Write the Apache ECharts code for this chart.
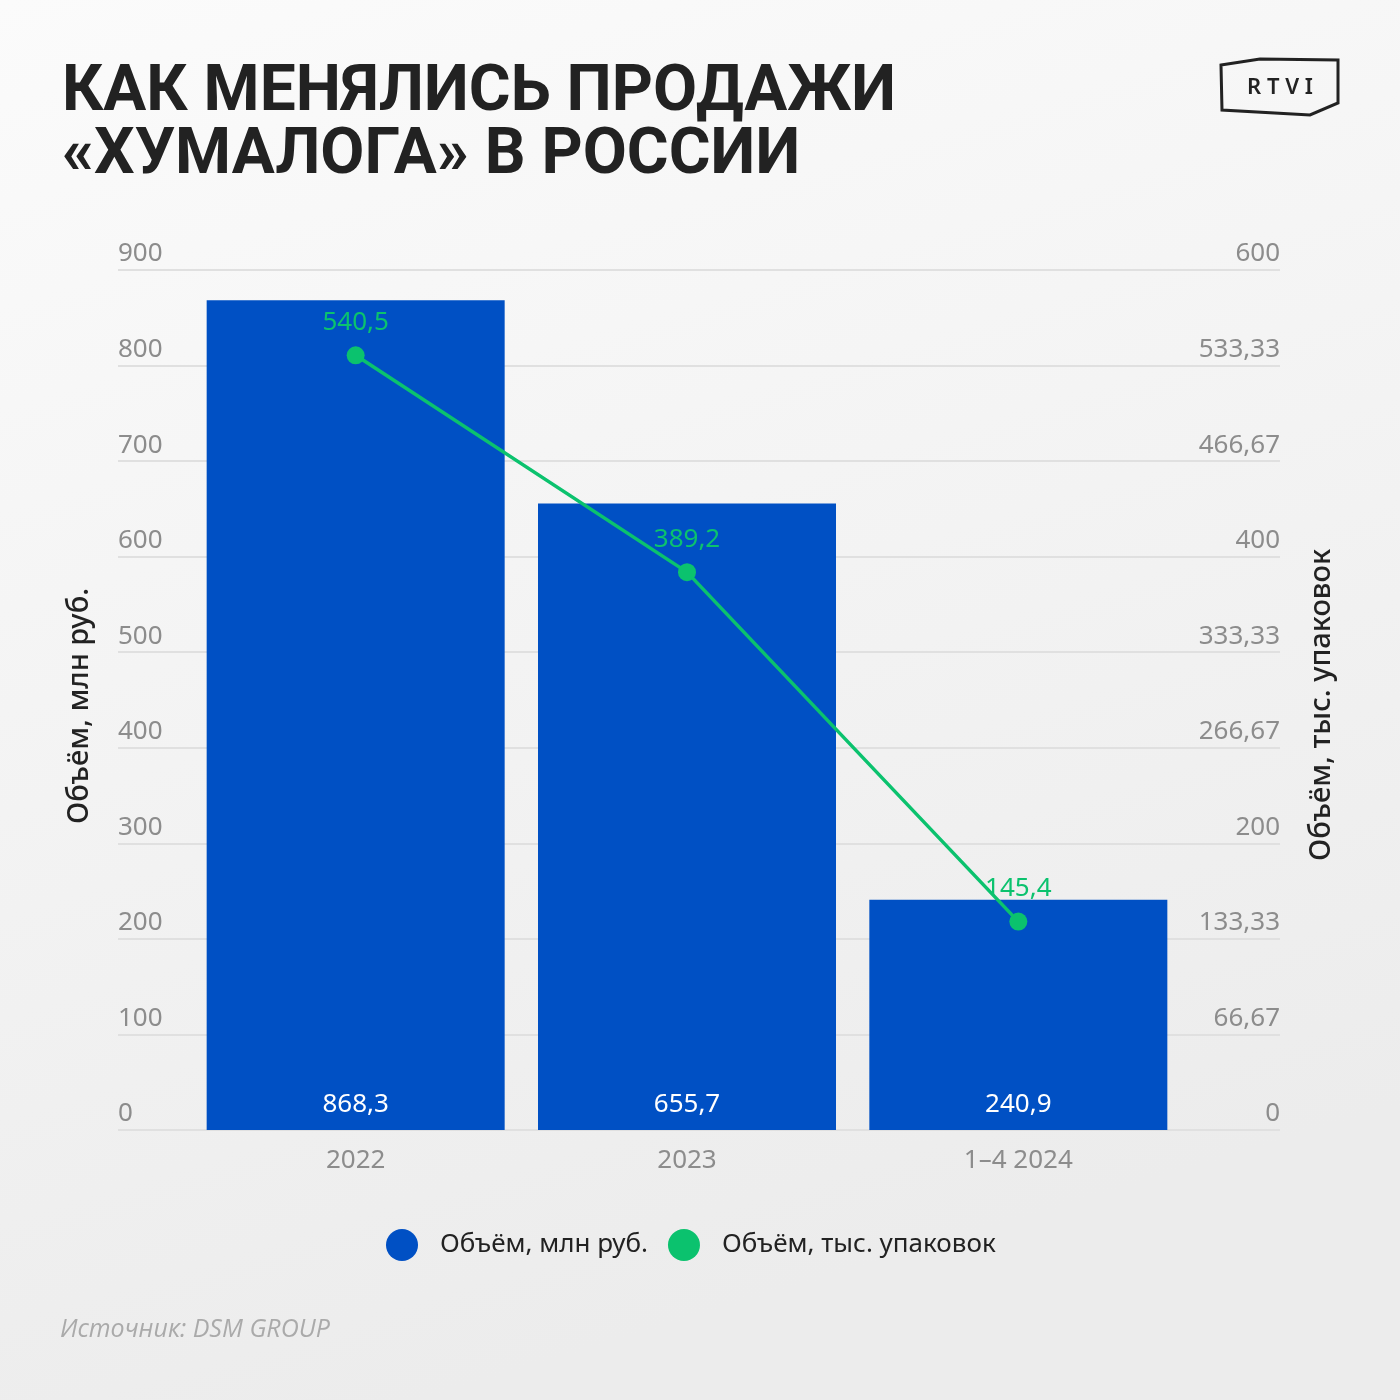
<!DOCTYPE html>
<html><head><meta charset="utf-8">
<script src="https://cdn.jsdelivr.net/npm/echarts@6/dist/echarts.min.js"></script>
<style>html,body{margin:0;padding:0;}#c{width:1400px;height:1400px;}</style>
</head><body><div id="c"></div>
<script>
const categories = ['2022', '2023', '1–4 2024'];
const salesRub = [868.3, 655.7, 240.9];
const salesPacks = [540.5, 389.2, 145.4];
const seriesNames = ['Объём, млн руб.', 'Объём, тыс. упаковок'];
const leftAxisName = 'Объём, млн руб.';
const rightAxisName = 'Объём, тыс. упаковок';
const titleText = 'КАК МЕНЯЛИСЬ ПРОДАЖИ\n«ХУМАЛОГА» В РОССИИ';
const sourceText = 'Источник: DSM GROUP';

const fmt = v => {
  let s = (Math.round(v * 100) / 100).toFixed(2).replace(/\.?0+$/, '');
  return s.replace('.', ',');
};
const BLUE = '#0050c4', GREEN = '#0bc26e', GRAY = '#8c8c8c', DARK = '#222222';
const FONT = 'Noto Sans';

const chart = echarts.init(document.getElementById('c'));
chart.setOption({
  backgroundColor: {type: 'linear', x: 0, y: 0, x2: 0.3, y2: 1, colorStops: [{offset: 0, color: '#fbfbfb'}, {offset: 1, color: '#ececec'}]},
  textStyle: {fontFamily: FONT},
  title: {
    text: titleText, left: 57, top: 57,
    textStyle: {fontFamily: 'Roboto', fontSize: 64, fontWeight: 'bold', color: DARK, lineHeight: 63}
  },
  legend: {
    left: 386, top: 1229, padding: 0, itemWidth: 32, itemHeight: 32, itemGap: 20, icon: 'circle',
    data: seriesNames,
    textStyle: {fontFamily: FONT, fontSize: 26, color: DARK, padding: [0, 0, 0, 17]}
  },
  grid: [
    {left: 118, right: 120, top: 270, bottom: 270},
    {left: 190, right: 216, top: 270, bottom: 270}
  ],
  xAxis: [
    {gridIndex: 0, type: 'category', data: [''], show: false},
    {gridIndex: 1, type: 'category', data: categories, axisLine: {show: false}, axisTick: {show: false},
     axisLabel: {color: GRAY, fontSize: 26, margin: 18, fontFamily: FONT}}
  ],
  yAxis: [
    {gridIndex: 0, type: 'value', position: 'left', min: 0, max: 900, interval: 100,
     axisLine: {show: false}, axisTick: {show: false},
     axisLabel: {inside: true, margin: 0, align: 'left', verticalAlign: 'bottom', padding: [0, 0, 3, 0], color: GRAY, fontSize: 26, fontFamily: FONT},
     splitLine: {lineStyle: {color: '#e0e0e0', width: 2}}},
    {gridIndex: 0, type: 'value', position: 'right', min: 0, max: 600, interval: 600 / 9,
     axisLine: {show: false}, axisTick: {show: false},
     axisLabel: {inside: true, margin: 0, align: 'right', verticalAlign: 'bottom', padding: [0, 0, 3, 0], color: GRAY, fontSize: 26, fontFamily: FONT, formatter: fmt},
     splitLine: {show: false}},
    {gridIndex: 1, type: 'value', min: 0, max: 900, show: false, splitLine: {show: false}},
    {gridIndex: 1, type: 'value', min: 0, max: 600, show: false, splitLine: {show: false}}
  ],
  series: [
    {name: seriesNames[0], type: 'bar', xAxisIndex: 1, yAxisIndex: 2, data: salesRub,
     barWidth: 298, itemStyle: {color: BLUE},
     label: {show: true, position: 'insideBottom', distance: 12, color: '#ffffff', fontSize: 26, fontFamily: FONT, formatter: p => fmt(p.value)}},
    {name: seriesNames[1], type: 'line', xAxisIndex: 1, yAxisIndex: 3, data: salesPacks,
     symbol: 'circle', symbolSize: 18, lineStyle: {color: GREEN, width: 3.5}, itemStyle: {color: GREEN},
     label: {show: true, position: 'top', distance: 11, color: GREEN, fontSize: 26, fontFamily: FONT, formatter: p => fmt(p.value)}}
  ],
  graphic: [
    {type: 'text', x: 80, y: 706, rotation: Math.PI / 2,
     style: {text: leftAxisName, fill: DARK, font: '500 29px "Noto Sans"', textAlign: 'center', textVerticalAlign: 'middle'}},
    {type: 'text', x: 1322, y: 705, rotation: Math.PI / 2,
     style: {text: rightAxisName, fill: DARK, font: '500 29px "Noto Sans"', textAlign: 'center', textVerticalAlign: 'middle'}},
    {type: 'text', x: 60, y: 1330,
     style: {text: sourceText, fill: '#aaaaaa', font: 'italic 25px "Open Sans"', textAlign: 'left', textVerticalAlign: 'middle'}},
    {type: 'polygon', shape: {points: [[1221, 65], [1260, 59], [1338, 60], [1338, 103], [1310, 115], [1222, 110]]},
     style: {fill: 'none', stroke: '#222', lineWidth: 3}},
    {type: 'text', x: 1280, y: 88,
     style: {text: 'R T V I', fill: '#222', font: '600 22px "Noto Sans"', textAlign: 'center', textVerticalAlign: 'middle'}}
  ]
});
</script></body></html>
